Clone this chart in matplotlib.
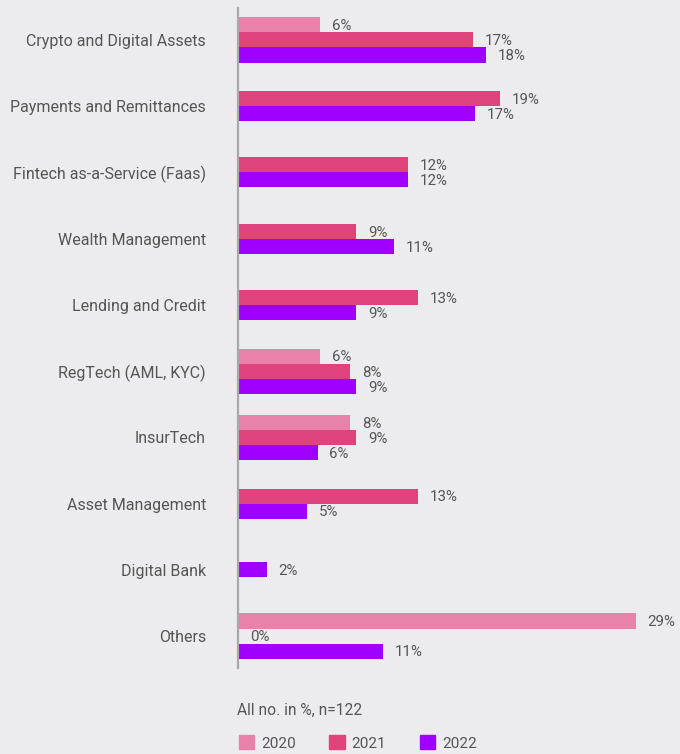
import matplotlib.pyplot as plt
from matplotlib.patches import Patch

categories = ['Crypto and Digital Assets', 'Payments and Remittances',
              'Fintech as-a-Service (Faas)', 'Wealth Management',
              'Lending and Credit', 'RegTech (AML, KYC)', 'InsurTech',
              'Asset Management', 'Digital Bank', 'Others']
years = ['2020', '2021', '2022']
# bar lengths as drawn (labels are the rounded figures); None = no bar
v2020 = [6.0, None, None, None, None, 6.0, 8.2, None, None, 29.0]
v2021 = [17.1, 19.1, 12.4, 8.6, 13.1, 8.2, 8.6, 13.1, None, 0]
v2022 = [18.1, 17.3, 12.4, 11.4, 8.6, 8.6, 5.8, 5.0, 2.1, 10.6]
colors = ['#e882a8', '#de437b', '#a000ff']

bg = '#ececee'
txt = '#555555'
plt.rcParams['font.family'] = ['Roboto', 'DejaVu Sans']

fig = plt.figure(figsize=(6.8, 7.54), dpi=100, facecolor=bg)
ax = fig.add_axes([238 / 680, 1 - 668 / 754, 439 / 680, 660 / 754])
ax.set_facecolor(bg)

spacing = 4.41
series = [v2020, v2021, v2022]
for i, cat in enumerate(categories):
    present = [k for k in range(3) if series[k][i] is not None]
    n = len(present)
    for j, k in enumerate(present):
        y = i * spacing + (j - (n - 1) / 2)
        val = series[k][i]
        ax.barh(y, val, height=1.0, color=colors[k], left=0)
        ax.annotate(f'{round(val)}%', (val, y), xytext=(8.5, -1), textcoords='offset points',
                    va='center', ha='left', fontsize=10.8, color=txt)

ax.set_xlim(0, 32)
ax.set_ylim(9 * spacing + 2.13, -2.13)
ax.set_yticks([i * spacing for i in range(len(categories))])
ax.set_yticklabels(categories, fontsize=11.5, color=txt)
ax.tick_params(axis='y', length=0, pad=23)
ax.set_xticks([])
for s in ['top', 'right', 'bottom']:
    ax.spines[s].set_visible(False)
ax.spines['left'].set_color('#a9a9a9')
ax.spines['left'].set_linewidth(1.6)

fig.text(237 / 680, 1 - 710 / 754, 'All no. in %, n=122', fontsize=11.2,
         color=txt, va='center', ha='left')

handles = [Patch(color=c, label=y) for c, y in zip(colors, years)]
leg = fig.legend(handles=handles, ncol=3, loc='center left',
                 bbox_to_anchor=(225 / 680, 1 - 743 / 754), frameon=False,
                 fontsize=11, handlelength=1.0, handleheight=1.0,
                 handletextpad=0.45, columnspacing=2.2, labelcolor=txt)

plt.savefig('out.png', dpi=100, facecolor=bg)
